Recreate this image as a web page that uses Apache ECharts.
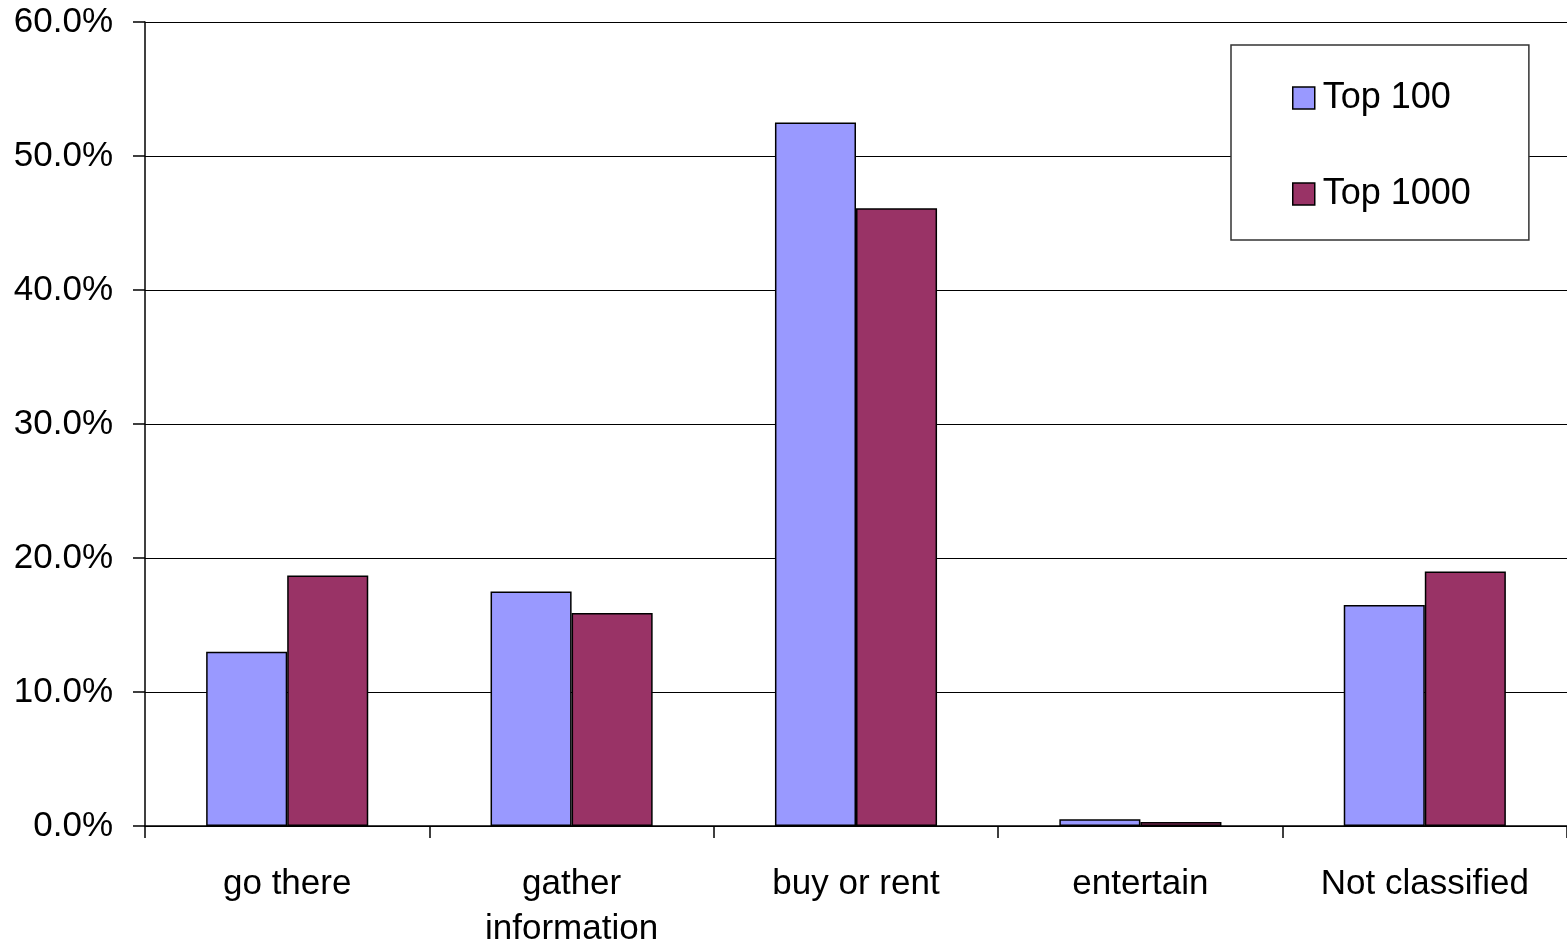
<!DOCTYPE html>
<html>
<head>
<meta charset="utf-8">
<style>
  html, body { margin: 0; padding: 0; background: #fff; }
  #chart { width: 1567px; height: 943px; }
</style>
<script src="https://cdn.jsdelivr.net/npm/echarts@6/dist/echarts.min.js"></script>
</head>
<body>
<div id="chart"></div>
<script>
// Share of queries by intent category (%)
const categories = ['go there', 'gather\ninformation', 'buy or rent', 'entertain', 'Not classified'];
const top100 = [13.0, 17.5, 52.5, 0.5, 16.5];
const top1000 = [18.7, 15.9, 46.1, 0.3, 19.0];
const yTicks = [0, 10, 20, 30, 40, 50, 60];

const FONT = '"Liberation Sans", Arial, sans-serif';

const chart = echarts.init(document.getElementById('chart'), null, { renderer: 'canvas' });

const barStyle = (color) => ({ color: color, borderColor: '#000', borderWidth: 1.5 });

chart.setOption({
  animation: false,
  backgroundColor: '#fff',
  grid: { left: 145, right: 0, top: 22, height: 804, containLabel: false, outerBoundsMode: 'none' },
  legend: {
    orient: 'vertical',
    left: 1231,
    top: 45,
    padding: [35, 58, 28, 61],
    itemGap: 60,
    itemWidth: 22,
    itemHeight: 22,
    backgroundColor: '#fff',
    borderColor: '#333',
    borderWidth: 1.5,
    borderRadius: 0,
    textStyle: { fontFamily: FONT, fontSize: 36, color: '#000', padding: [0, 0, 0, 3] },
    data: [
      { name: 'Top 100', icon: 'rect', itemStyle: barStyle('#9999FF') },
      { name: 'Top 1000', icon: 'rect', itemStyle: barStyle('#993366') }
    ]
  },
  xAxis: {
    type: 'category',
    data: categories,
    boundaryGap: true,
    axisLine: { lineStyle: { color: '#000', width: 1.5 } },
    axisTick: { show: true, length: 12, inside: false, alignWithLabel: false, lineStyle: { color: '#000', width: 1.5 } },
    axisLabel: {
      margin: 36,
      fontFamily: FONT,
      fontSize: 35,
      color: '#000',
      lineHeight: 45,
      verticalAlign: 'top',
      interval: 0
    }
  },
  yAxis: {
    type: 'value',
    min: yTicks[0],
    max: yTicks[yTicks.length - 1],
    interval: 10,
    axisLine: { show: true, lineStyle: { color: '#000', width: 1.5 } },
    axisTick: { show: true, length: 12, lineStyle: { color: '#000', width: 1.5 } },
    axisLabel: {
      margin: 32,
      fontFamily: FONT,
      fontSize: 35,
      color: '#000',
      formatter: (v) => v.toFixed(1) + '%'
    },
    splitLine: { show: true, lineStyle: { color: '#000', width: 1.2 } }
  },
  series: [
    {
      name: 'Top 100',
      type: 'bar',
      data: top100,
      barGap: '0%',
      barCategoryGap: '43%',
      itemStyle: barStyle('#9999FF')
    },
    {
      name: 'Top 1000',
      type: 'bar',
      data: top1000,
      barGap: '0%',
      barCategoryGap: '43%',
      itemStyle: barStyle('#993366')
    }
  ]
});
</script>
</body>
</html>
